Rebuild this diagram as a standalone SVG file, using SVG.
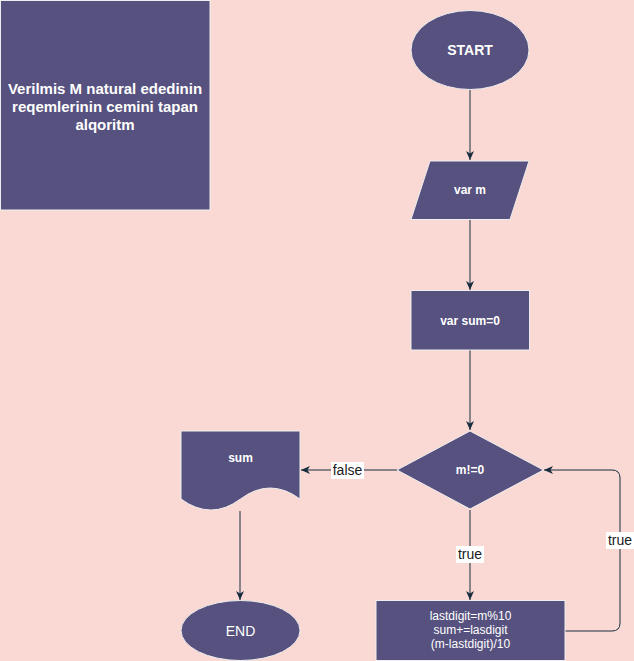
<svg xmlns="http://www.w3.org/2000/svg" width="634" height="661" viewBox="0 0 634 661">
<defs>
<style>
.n{fill:#56517E;stroke:#EEEEEE;stroke-width:1}
.t{font-family:"Liberation Sans",Arial,sans-serif;fill:#FFFFFF;text-anchor:middle}
.b{font-weight:bold}
.e{fill:none;stroke:#182E3E;stroke-width:1}
.lb{font-family:"Liberation Sans",Arial,sans-serif;font-size:14px;fill:#1A1A1A;text-anchor:middle}
</style>
<marker id="ah" viewBox="0 0 10 10" refX="9" refY="5" markerWidth="10" markerHeight="10" markerUnits="userSpaceOnUse" orient="auto">
<path d="M0,1 L9,5 L0,9 L2.5,5 Z" fill="#182E3E"/>
</marker>
</defs>
<rect x="0" y="0" width="634" height="661" fill="#FAD9D5"/>
<g id="title">
<rect class="n" x="0.5" y="0.5" width="209.5" height="209.5"/>
<text class="t b" font-size="15" x="105" y="93.5">Verilmis M natural ededinin</text>
<text class="t b" font-size="15" x="105" y="111.5">reqemlerinin cemini tapan</text>
<text class="t b" font-size="15" x="105" y="129.5">alqoritm</text>
</g>
<g id="connectors">
<line class="e" x1="470" y1="90" x2="470" y2="160" marker-end="url(#ah)"/>
<line class="e" x1="470" y1="220" x2="470" y2="290" marker-end="url(#ah)"/>
<line class="e" x1="470" y1="350" x2="470" y2="430" marker-end="url(#ah)"/>
<line class="e" x1="397" y1="470" x2="301" y2="470" marker-end="url(#ah)"/>
<line class="e" x1="470" y1="510" x2="470" y2="600" marker-end="url(#ah)"/>
<line class="e" x1="240" y1="511" x2="240" y2="600" marker-end="url(#ah)"/>
<path class="e" d="M565,631 H612 Q620,631 620,623 V478 Q620,470 612,470 H544" marker-end="url(#ah)"/>
<rect x="331" y="462" width="33" height="17" fill="#FFFFFF"/>
<text class="lb" x="347.5" y="475">false</text>
<rect x="456" y="546" width="28" height="17" fill="#FFFFFF"/>
<text class="lb" x="470" y="559">true</text>
<rect x="606" y="532" width="28" height="17" fill="#FFFFFF"/>
<text class="lb" x="620" y="545">true</text>
</g>
<g id="start">
<ellipse class="n" cx="470" cy="50" rx="59" ry="39.5"/>
<text class="t b" font-size="14" x="470" y="55">START</text>
</g>
<g id="varm">
<path class="n" d="M430,161 H529 L510,219.5 H411 Z"/>
<text class="t b" font-size="12" x="470" y="194">var m</text>
</g>
<g id="varsum">
<rect class="n" x="411" y="290.5" width="118.5" height="59.5"/>
<text class="t b" font-size="12" x="470" y="325">var sum=0</text>
</g>
<g id="cond">
<path class="n" d="M470,431 L543.5,470 L470,509 L397,470 Z"/>
<text class="t b" font-size="12" x="470" y="474">m!=0</text>
</g>
<g id="sum">
<path class="n" d="M181,431 H300 V499 Q270,477 240.5,499 Q211,521 181,499 Z"/>
<text class="t b" font-size="12" x="240.5" y="462">sum</text>
</g>
<g id="end">
<ellipse class="n" cx="240.5" cy="630.5" rx="59.5" ry="30"/>
<text class="t" font-size="14" x="240.5" y="635.5">END</text>
</g>
<g id="process">
<rect class="n" x="376" y="600.5" width="189" height="60"/>
<text class="t" font-size="12" x="470.5" y="620">lastdigit=m%10</text>
<text class="t" font-size="12" x="470.5" y="634">sum+=lasdigit</text>
<text class="t" font-size="12" x="470.5" y="648">(m-lastdigit)/10</text>
</g>
</svg>
